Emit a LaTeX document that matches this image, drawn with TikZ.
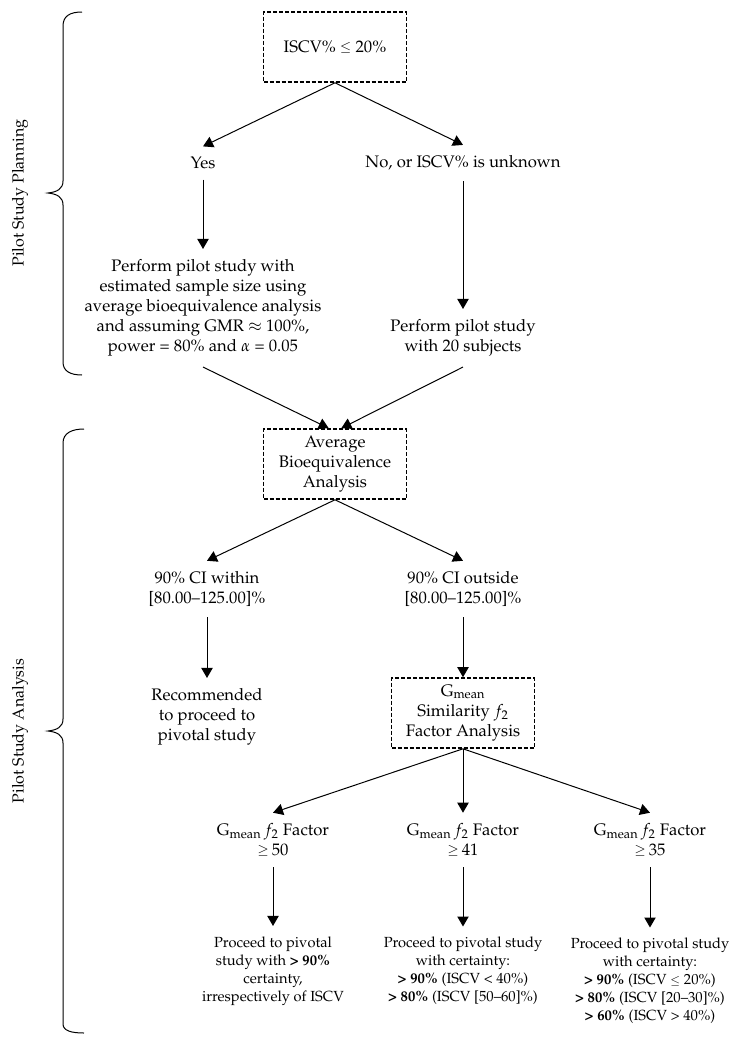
\documentclass[tikz,border=0pt]{standalone}
\usepackage[T1]{fontenc}
\usepackage{mathpazo}
\usetikzlibrary{arrows.meta}
\newcommand{\myle}{\raisebox{0.1ex}{\scalebox{0.82}{$\leq$}}}
\newcommand{\myge}{\raisebox{0.1ex}{\scalebox{0.82}{$\geq$}}}
\begin{document}
\begin{tikzpicture}[x=0.75pt,y=-0.75pt,
  every node/.style={inner sep=0pt},
  txt/.style={align=center, font=\fontsize{12.5}{15}\selectfont, outer sep=8pt},
  small/.style={align=center, font=\fontsize{11}{13.5}\selectfont, outer sep=8pt},
  dbox/.style={draw, line width=1.2pt, dash pattern=on 3pt off 1.5pt,
    minimum width=107pt, minimum height=52.5pt, align=center,
    font=\fontsize{12.5}{15}\selectfont, inner sep=2pt},
  arr/.style={-{Triangle[length=7.5pt,width=8.5pt]}, line width=0.75pt},
  brace/.style={line width=0.75pt},
  side/.style={rotate=90, font=\fontsize{12}{14}\selectfont}]
\useasboundingbox (0,0) rectangle (733,1043);

% nodes
\node[dbox] (top) at (335,47) {ISCV\% \myle\ 20\%};
\node[txt] (yes) at (203,163) {Yes};
\node[txt] (no) at (463,163) {No, or ISCV\% is unknown};
\node[txt] (plan) at (203,308) {Perform pilot study with\\estimated sample size using\\average bioequivalence analysis\\and assuming GMR $\approx$ 100\%,\\power = 80\% and $\alpha$ = 0.05};
\node[txt] (twenty) at (463,338) {Perform pilot study\\with 20 subjects};
\node[dbox] (abe) at (335,464) {Average\\Bioequivalence\\Analysis};
\node[txt] (within) at (207,589) {90\% CI within\\{[}80.00--125.00{]}\%};
\node[txt] (outside) at (463,589) {90\% CI outside\\{[}80.00--125.00{]}\%};
\node[txt] (rec) at (207,717) {Recommended\\to proceed to\\pivotal study};
\node[dbox] (gm) at (463,713) {G\textsubscript{mean}\\Similarity $f_2$\\Factor Analysis};
\node[txt] (fa) at (273,840) {G\textsubscript{mean}\,$f_2$ Factor\\\myge\,50};
\node[txt] (fb) at (463,840) {G\textsubscript{mean}\,$f_2$ Factor\\\myge\,41};
\node[txt] (fc) at (650,840) {G\textsubscript{mean}\,$f_2$ Factor\\\myge\,35};
\node[small] (pa) at (273,971) {Proceed to pivotal\\study with \textbf{>~90\%}\\certainty,\\irrespectively of ISCV};
\node[small] (pb) at (463,971) {Proceed to pivotal study\\with certainty:\\\textbf{>~90\%} (ISCV < 40\%)\\\textbf{>~80\%} (ISCV {[}50--60{]}\%)};
\node[small] (pc) at (650,981) {Proceed to pivotal study\\with certainty:\\\textbf{>~90\%} (ISCV \myle\ 20\%)\\\textbf{>~80\%} (ISCV {[}20--30{]}\%)\\\textbf{>~60\%} (ISCV > 40\%)};

\node[side] (lab1) at (20,193) {Pilot Study Planning};
\node[side] (lab2) at (20,731) {Pilot Study Analysis};

% connectors
\draw[arr] (top.south) -- (yes.north);
\draw[arr] (top.south) -- (no.north);
\draw[arr] (yes.south) -- (plan.north);
\draw[arr] (no.south) -- (twenty.north);
\draw[arr] (plan.south) -- (abe.100);
\draw[arr] (twenty.south) -- (abe.80);
\draw[arr] (abe.south) -- (within.north);
\draw[arr] (abe.south) -- (outside.north);
\draw[arr] (within.south) -- (rec.north);
\draw[arr] (outside.south) -- (gm.north);
\draw[arr] (gm.south) -- (fa.north);
\draw[arr] (gm.south) -- (fb.north);
\draw[arr] (gm.south) -- (fc.north);
\draw[arr] (fa.south) -- (pa.north);
\draw[arr] (fb.south) -- (pb.north);
\draw[arr] (fc.south) -- (pc.north);

% braces
\draw[brace] (82,12) .. controls (70,12) and (63,16) .. (63,26) -- (63,181)
  .. controls (63,189) and (57,192) .. (48,193) .. controls (57,194) and (63,197) .. (63,205)
  -- (63,362) .. controls (63,371) and (70,375) .. (82,375);
\draw[brace] (84,429) .. controls (72,429) and (63,433) .. (63,443) -- (63,719)
  .. controls (63,727) and (57,730) .. (48,731) .. controls (57,732) and (63,735) .. (63,743)
  -- (63,1024) .. controls (63,1031) and (72,1033) .. (84,1033);
\end{tikzpicture}
\end{document}
